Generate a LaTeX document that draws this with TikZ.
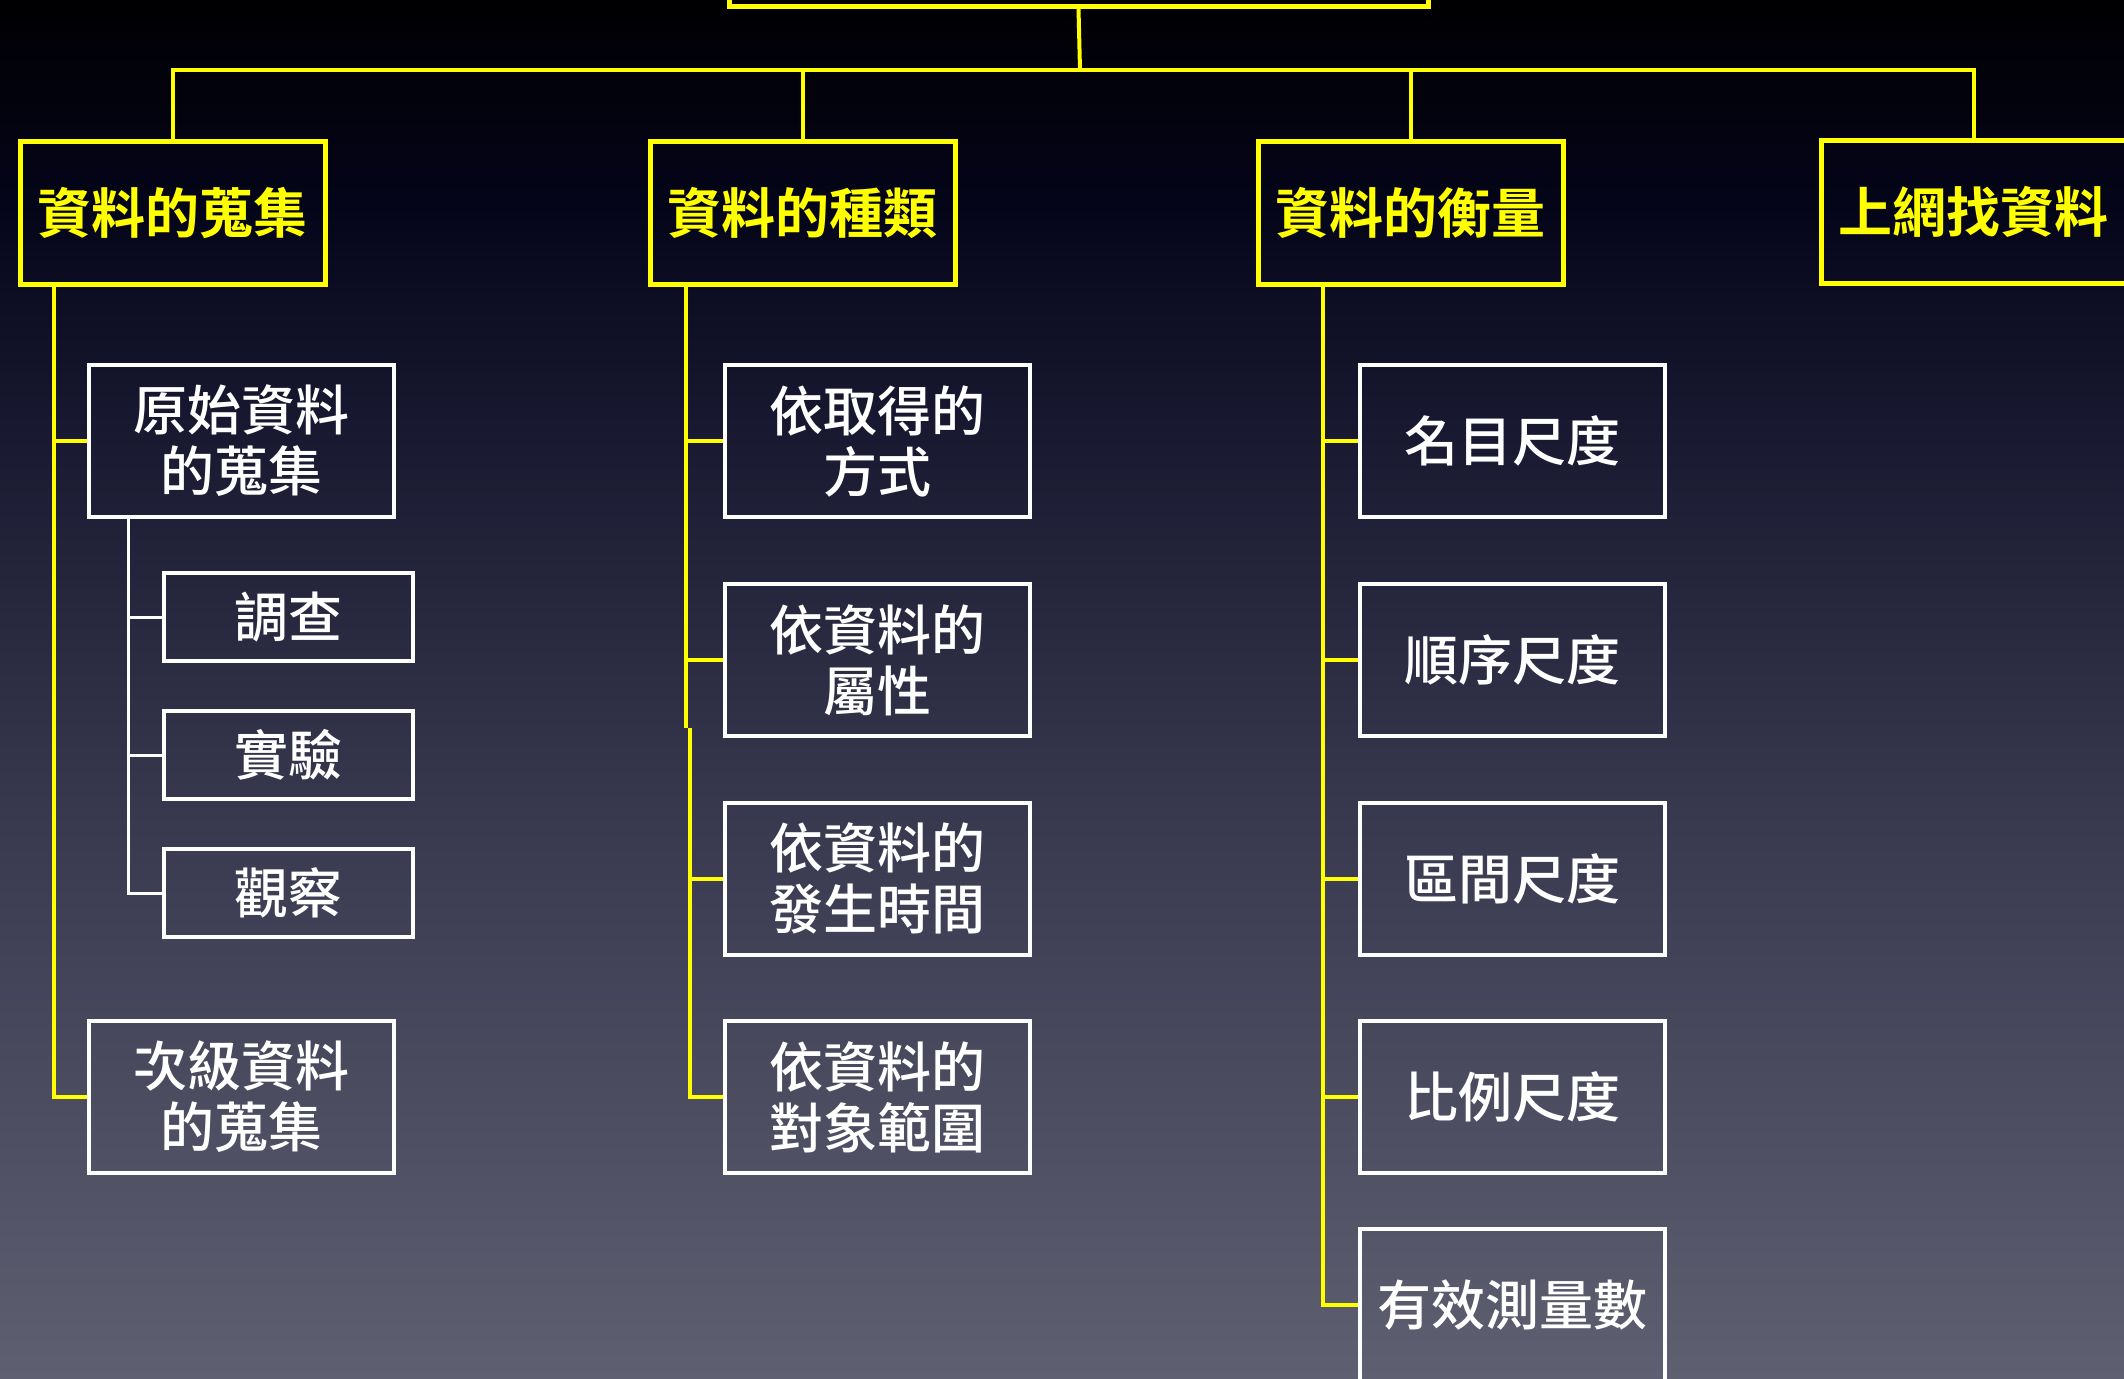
\documentclass[tikz,border=0pt]{standalone}
\usepackage{fontspec}
\newfontfamily\cjk{Noto Sans CJK TC}[UprightFont={* Medium}, BoldFont={* Bold}]
\definecolor{hiyellow}{HTML}{FFFF00}
\definecolor{bgtop}{HTML}{000002}
\definecolor{bgdark}{HTML}{05051A}
\definecolor{bgnavy}{HTML}{17182F}
\definecolor{bgmid}{HTML}{393A50}
\definecolor{bgbot}{HTML}{5E5F70}
\pgfdeclareverticalshading{slidebg}{100bp}{
    color(0bp)=(bgbot); color(25bp)=(bgbot); color(45bp)=(bgmid);
    color(60bp)=(bgnavy); color(67.5bp)=(bgdark); color(75bp)=(bgtop);
    color(100bp)=(bgtop)}
\tikzstyle{topbox}=[
    draw=hiyellow, line width=2.5pt,
    text=hiyellow, inner sep=0pt,
    font=\cjk\bfseries\fontsize{27}{31}\selectfont,
    minimum width=152.5pt, minimum height=71.5pt,
]
\tikzstyle{subbox}=[
    draw=white, line width=2pt,
    text=white, inner sep=0pt, align=center,
    font=\cjk\fontsize{27}{30.5}\selectfont,
    minimum width=152.5pt, minimum height=76pt,
]
\tikzstyle{leafbox}=[subbox, minimum width=124.5pt, minimum height=44pt]
\tikzstyle{yline}=[draw=hiyellow, line width=2pt]
\tikzstyle{wline}=[draw=white, line width=1.5pt]

\begin{document}
\begin{tikzpicture}[x=0.5pt, y=-0.5pt]
        \clip (0,0) rectangle (2124,1378);
        \shade[shading=slidebg] (0,0) rectangle (2124,1378);

        % root and the first level
        \node (root) at (1078.5,-64) [topbox, minimum width=349.5pt, minimum height=70pt] {};
        \coordinate (hub) at (1080,70);
        \node (gather) at (172.5,212.5) [topbox] {資料的蒐集};
        \node (kind) at (802.5,212.5) [topbox] {資料的種類};
        \node (measure) at (1410.5,212.5) [topbox] {資料的衡量};
        \node (online) at (1973.5,212) [topbox] {上網找資料};

        \draw[yline] (root.south) -- (hub);
        \draw[yline] (gather.north) -- (gather.north |- hub) -- (online.north |- hub) -- (online.north);
        \draw[yline] (kind.north) -- (kind.north |- hub);
        \draw[yline] (measure.north) -- (measure.north |- hub);

        % gathering
        \node (raw) at (241.5,440.5) [subbox] {原始資料\\的蒐集};
        \node (survey) at (288.5,617) [leafbox] {調查};
        \node (experiment) at (288.5,755) [leafbox] {實驗};
        \node (observe) at (288.5,893) [leafbox] {觀察};
        \node (second) at (241.5,1097) [subbox] {次級資料\\的蒐集};

        \draw[yline] ([xshift=18pt]gather.south west) |- (raw.west);
        \draw[yline] ([xshift=18pt]gather.south west) |- (second.west);
        \draw[wline] ([xshift=20.5pt]raw.south west) |- (survey.west);
        \draw[wline] ([xshift=20.5pt]raw.south west) |- (experiment.west);
        \draw[wline] ([xshift=20.5pt]raw.south west) |- (observe.west);

        % kinds
        \node (how) at (877.5,441) [subbox] {依取得的\\方式};
        \node (attr) at (877.5,660) [subbox] {依資料的\\屬性};
        \node (when) at (877.5,878.5) [subbox] {依資料的\\發生時間};
        \node (scope) at (877.5,1097) [subbox] {依資料的\\對象範圍};

        \coordinate (kindtrunk) at ([xshift=19pt]kind.south west);
        \coordinate (kindjog) at ([xshift=21pt]kind.south west);
        \draw[yline] (kindtrunk) |- (how.west);
        \draw[yline] (kindtrunk) |- (attr.west);
        \draw[yline] (kindtrunk) -- ([yshift=5pt]kindtrunk |- attr.south);
        \draw[yline] ([yshift=5pt]kindjog |- attr.south) |- (when.west);
        \draw[yline] ([yshift=5pt]kindjog |- attr.south) |- (scope.west);

        % scales
        \node (nominal) at (1512,441) [subbox] {名目尺度};
        \node (ordinal) at (1512,660) [subbox] {順序尺度};
        \node (interval) at (1512,878.5) [subbox] {區間尺度};
        \node (ratio) at (1512,1097) [subbox] {比例尺度};
        \node (valid) at (1512,1305) [subbox] {有效測量數};

        \foreach \leaf in {nominal,ordinal,interval,ratio,valid}
            \draw[yline] ([xshift=33.5pt]measure.south west) |- (\leaf.west);
    \end{tikzpicture}
\end{document}
